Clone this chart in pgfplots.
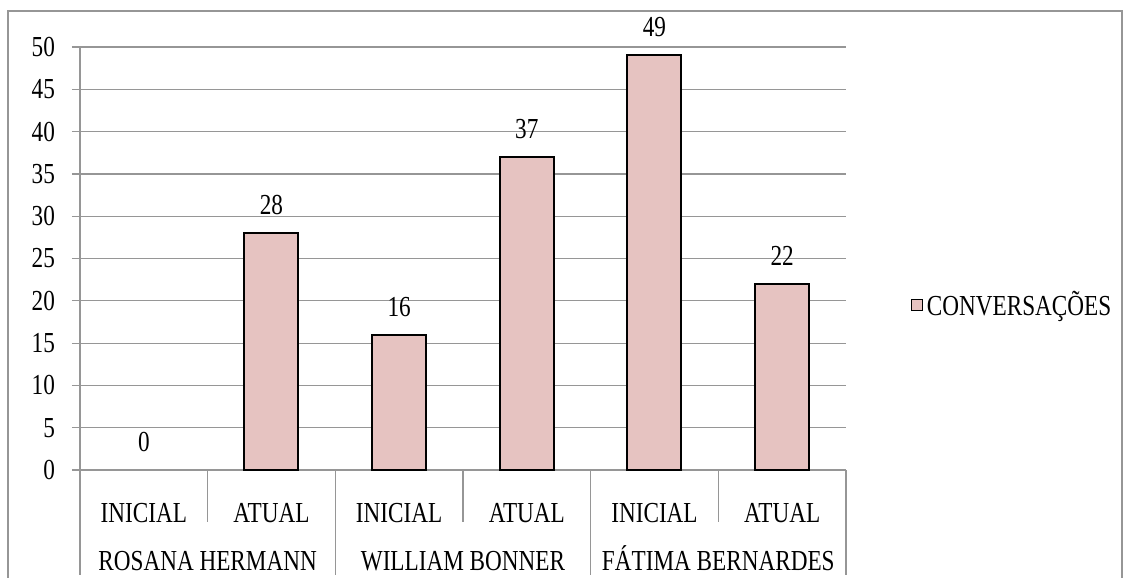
\documentclass[border=0pt]{standalone}
\usepackage{pgfplots}
\pgfplotsset{compat=1.18}
\usepackage{fontspec}
\setmainfont{Liberation Serif}[FakeStretch=0.8]
\definecolor{barfill}{RGB}{230,195,193}
\definecolor{gridgray}{RGB}{150,150,150}
\begin{document}
\begin{tikzpicture}[font=\fontsize{14.5}{17}\selectfont]
\useasboundingbox (-40pt,-54pt) rectangle (525pt,235pt);
\draw[gridgray, line width=0.6pt] (-36pt,-60pt) -- (-36pt,229.5pt) -- (521pt,229.5pt) -- (521pt,-60pt);
\begin{axis}[
  at={(0pt,0pt)}, anchor=south west,
  width=383pt, height=211.5pt, scale only axis,
  xmin=-0.5, xmax=5.5, ymin=0, ymax=50,
  axis x line=bottom, axis y line=left,
  axis line style={-, gridgray, line width=0.6pt},
  ytick={0,5,...,50},
  ymajorgrids, grid style={gridgray, line width=0.6pt},
  y tick style={gridgray, line width=0.6pt},
  tick align=outside, major tick length=4pt,
  xtick={0,1,2,3,4,5},
  xticklabels={INICIAL,ATUAL,INICIAL,ATUAL,INICIAL,ATUAL},
  x tick style={draw=none},
  xticklabel style={anchor=base, yshift=-22.3pt},
  yticklabel style={anchor=east, xshift=-5pt},
  /pgf/number format/assume math mode=true,
  ybar, bar width=27pt,
  clip=false,
  legend style={draw=none, fill=none, at={(1.084,0.39)}, anchor=west, inner sep=0pt},
  legend image code/.code={\draw[#1, line width=0.7pt] (0pt,-2.7pt) rectangle (5.4pt,2.7pt);},
  nodes near coords,
  every node near coord/.append style={anchor=center, yshift=14pt, black},
]
\addplot[bar shift=0pt, fill=barfill, draw=black, line width=1pt]
  coordinates {(1,28) (2,16) (3,37) (4,49) (5,22)};
\addlegendentry{CONVERSAÇÕES}
\addplot[bar shift=0pt, draw=none, fill=none, forget plot]
  coordinates {(0,0)};
\draw[gridgray, line width=0.6pt] (axis cs:0.5,0) -- ++(0pt,-26pt);
\draw[gridgray, line width=0.6pt] (axis cs:2.5,0) -- ++(0pt,-26pt);
\draw[gridgray, line width=0.6pt] (axis cs:4.5,0) -- ++(0pt,-26pt);
\draw[gridgray, line width=0.6pt] (axis cs:-0.5,0) -- ++(0pt,-52.5pt);
\draw[gridgray, line width=0.6pt] (axis cs:1.5,0) -- ++(0pt,-52.5pt);
\draw[gridgray, line width=0.6pt] (axis cs:3.5,0) -- ++(0pt,-52.5pt);
\draw[gridgray, line width=0.6pt] (axis cs:5.5,0) -- ++(0pt,-52.5pt);
\node[anchor=base, yshift=-50pt] at (axis cs:0.5,0) {ROSANA HERMANN};
\node[anchor=base, yshift=-50pt] at (axis cs:2.5,0) {WILLIAM BONNER};
\node[anchor=base, yshift=-50pt] at (axis cs:4.5,0) {FÁTIMA BERNARDES};
\end{axis}
\end{tikzpicture}
\end{document}
